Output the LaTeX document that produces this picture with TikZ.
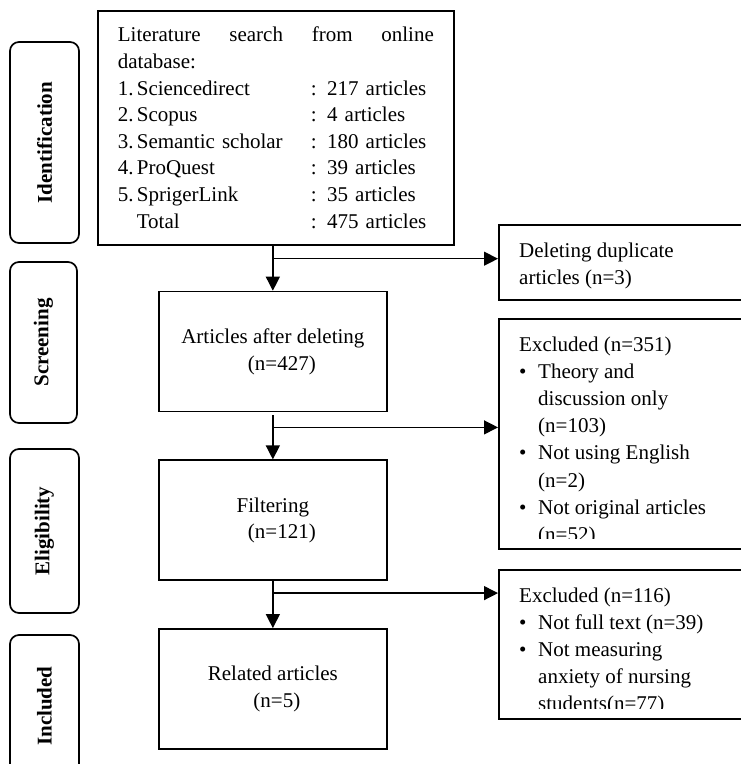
\documentclass[tikz,border=0pt]{standalone}
\usepackage{fontspec}
\setmainfont{Liberation Serif}
\usetikzlibrary{arrows.meta,positioning}

\newcommand{\flowfont}{\fontsize{21}{26.6}\selectfont}
\newcommand{\notefont}{\fontsize{21}{27.2}\selectfont}
\newcommand{\dbrow}[3]{\makebox[19pt][l]{#1}\makebox[174pt][l]{#2}: #3 articles}
\newcommand{\bulletitem}{\makebox[19pt][l]{\textbullet}}
\newcommand{\bulletgap}{\hspace*{19pt}}

\begin{document}
\begin{tikzpicture}[
    x=1pt, y=-1pt,
    flowbox/.style={rectangle, draw, line width=1.7pt, minimum width=228pt, minimum height=120pt, align=center, font=\flowfont},
    sidebox/.style={rectangle, draw, line width=1.7pt, anchor=north west, minimum width=260pt, inner sep=0pt},
    sidetext/.style={anchor=north west, inner sep=0pt, align=left, font=\notefont},
    stage/.style={rectangle, draw, rounded corners=9pt, line width=1.7pt, rotate=90, minimum height=69pt, font=\flowfont\bfseries},
    arrow/.style={-{Triangle[length=14pt, width=14pt]}, line width=1.3pt}
]
  \useasboundingbox (0,0) rectangle (741,764);
  \clip (0,0) rectangle (741,764);

  % Stages
  \node[stage, minimum width=201pt] (ident) at (44.5,142.5) {Identification};
  \node[stage, minimum width=161pt, minimum height=67pt] (screen) at (43.5,342.5) {Screening};
  \node[stage, minimum width=164pt] (elig) at (44.5,531) {Eligibility};
  \node[stage, minimum width=142pt] (incl) at (44.5,706) {Included};

  % Main flow
  \node[flowbox, minimum width=356pt, minimum height=234pt, text width=316pt, inner xsep=20pt, align=left, anchor=north west] (search) at (97,10) {\makebox[316pt][l]{Literature\hfill search\hfill from\hfill online}\\database:\\\dbrow{1.}{Sciencedirect}{217}\\\dbrow{2.}{Scopus}{4}\\\dbrow{3.}{Semantic scholar}{180}\\\dbrow{4.}{ProQuest}{39}\\\dbrow{5.}{SprigerLink}{35}\\\dbrow{}{Total}{475}};
  \node[flowbox, below=45pt of search, xshift=-3pt] (afterdel) {Articles after deleting\\\hspace*{18pt}(n=427)};
  \node[flowbox, below=47pt of afterdel] (filtering) {Filtering\\\hspace*{18pt}(n=121)};
  \node[flowbox, below=47pt of filtering] (related) {Related articles\\\hspace*{8pt}(n=5)};

  % Excluded records
  \node[sidebox, minimum height=75pt] (dupl) at (498,224) {};
  \node[sidetext] (dupltext) at ([shift={(21pt,-18.4pt)}]dupl.north west) {Deleting duplicate\\articles (n=3)};

  \node[sidebox, minimum height=230pt] (exclscreen) at (498,318) {};
  \begin{scope}
    \clip (exclscreen.north west) rectangle ([yshift=11pt]exclscreen.south east);
    \node[sidetext] (exclscreentext) at ([shift={(21pt,-18.4pt)}]exclscreen.north west) {Excluded (n=351)\\\bulletitem Theory and\\\bulletgap discussion only\\\bulletgap (n=103)\\\bulletitem Not using English\\\bulletgap (n=2)\\\bulletitem Not original articles\\\bulletgap (n=52)};
  \end{scope}

  \node[sidebox, minimum height=149pt] (exclelig) at (498,569) {};
  \begin{scope}
    \clip (exclelig.north west) rectangle ([yshift=11pt]exclelig.south east);
    \node[sidetext] (excleligtext) at ([shift={(21pt,-18.4pt)}]exclelig.north west) {Excluded (n=116)\\\bulletitem Not full text (n=39)\\\bulletitem Not measuring\\\bulletgap anxiety of nursing\\\bulletgap students(n=77)};
  \end{scope}

  % Arrows
  \draw[arrow] (search.south -| afterdel.north) -- (afterdel.north);
  \draw[arrow] ([yshift=-3pt]afterdel.south) -- (filtering.north);
  \draw[arrow] (filtering.south) -- (related.north);

  \path (search.south -| afterdel.north) ++(0,13) coordinate (fork1);
  \path (afterdel.south) ++(0,15) coordinate (fork2);
  \path (filtering.south) ++(0,12) coordinate (fork3);
  \draw[arrow] (fork1) -- (fork1 -| dupl.west);
  \draw[arrow] (fork2) -- (fork2 -| exclscreen.west);
  \draw[arrow] (fork3) -- (fork3 -| exclelig.west);
\end{tikzpicture}
\end{document}
